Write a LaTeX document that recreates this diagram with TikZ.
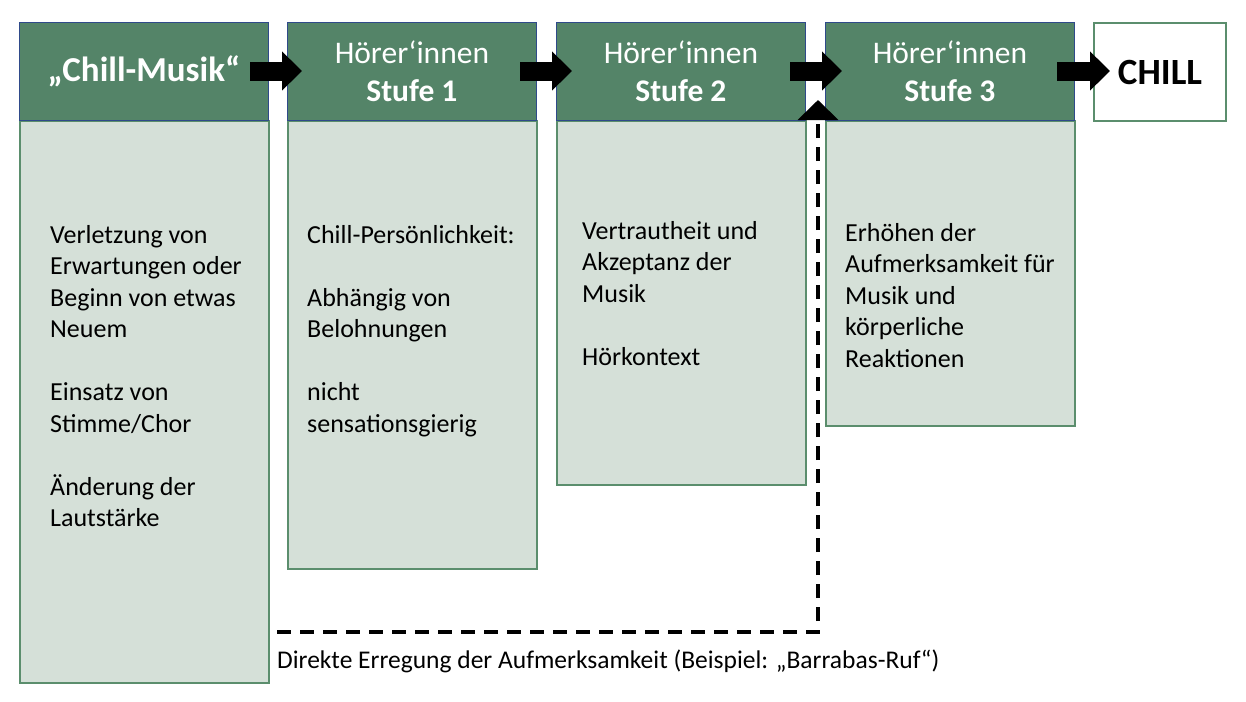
\documentclass[tikz,border=0pt]{standalone}
\usepackage{fontspec}
\setmainfont{Carlito}
\usetikzlibrary{arrows.meta,positioning}
\definecolor{headgreen}{HTML}{548468}
\definecolor{bodygreen}{HTML}{D5E0D8}
\definecolor{edgegreen}{HTML}{5B8E6D}
\definecolor{edgeblue}{HTML}{2F4A8A}
\tikzset{
  head/.style={draw=edgeblue, line width=0.8pt, fill=headgreen, minimum width=249pt, minimum height=98pt, inner sep=0pt, anchor=north west, text=white, font=\fontsize{31.5}{38}\selectfont, align=center},
  body/.style={draw=edgegreen, line width=2pt, fill=bodygreen, minimum width=249pt, anchor=north west, inner sep=0pt},
  txt/.style={anchor=north west, align=left, font=\fontsize{26}{31.5}\selectfont, inner sep=0pt},
  fat/.style={line width=19pt, -{Triangle[width=38pt,length=20pt]}},
}
\begin{document}
\begin{tikzpicture}[x=1pt,y=-1pt]
\useasboundingbox (0,0) rectangle (1246,701);
% bodies
\node[body, minimum height=562pt] (b1) at (19,120) {};
\node[body, minimum height=448pt] (b2) at (287,120) {};
\node[body, minimum height=364pt] (b3) at (556,120) {};
\node[body, minimum height=305pt] (b4) at (825,120) {};
% headers
\node[head, font=\fontsize{35}{40}\selectfont\bfseries] (h1) at (19,22) {„Chill-Musik“};
\node[head] (h2) at (287,22) {Hörer‘innen\\\bfseries Stufe 1};
\node[head] (h3) at (556,22) {Hörer‘innen\\\bfseries Stufe 2};
\node[head] (h4) at (825,22) {Hörer‘innen\\\bfseries Stufe 3};
\node[draw=edgegreen, line width=2pt, fill=white, minimum width=132pt, minimum height=98pt, anchor=north west, font=\fontsize{37}{42}\selectfont\bfseries] (chill) at (1093,22) {CHILL};
% body texts
\node[txt] (t1) at (50,225) {Verletzung von\\Erwartungen oder\\Beginn von etwas\\Neuem\\[31.5pt]Einsatz von\\Stimme/Chor\\[31.5pt]Änderung der\\Lautstärke};
\node[txt] (t2) at (307,225) {Chill-Persönlichkeit:\\[31.5pt]Abhängig von\\Belohnungen\\[31.5pt]nicht\\sensationsgierig};
\node[txt] (t3) at (582,221) {Vertrautheit und\\Akzeptanz der\\Musik\\[31.5pt]Hörkontext};
\node[txt] (t4) at (845,223) {Erhöhen der\\Aufmerksamkeit für\\Musik und\\körperliche\\Reaktionen};
% block arrows
\coordinate (a1) at (250,71); \coordinate (e1) at (302,71);
\coordinate (a2) at (520,71); \coordinate (e2) at (572,71);
\coordinate (a3) at (790,71); \coordinate (e3) at (842,71);
\coordinate (a4) at (1057,71); \coordinate (e4) at (1110,71);
\foreach \i in {1,...,4} \draw[fat] (a\i) -- (e\i);
% dashed bypass
\coordinate (d0) at (277,632);
\coordinate (d1) at (818,632);
\coordinate (d2) at (818,100);
\draw[line width=4pt, dash pattern=on 14pt off 9pt, -{Triangle[width=40pt,length=20pt]}] (d0) -- (d1) -- (d2);
\node[anchor=north west, inner sep=0pt, font=\fontsize{25.5}{30}\selectfont] (lbl) at (277,650) {Direkte Erregung der Aufmerksamkeit (Beispiel: „Barrabas-Ruf“)};
\end{tikzpicture}
\end{document}
